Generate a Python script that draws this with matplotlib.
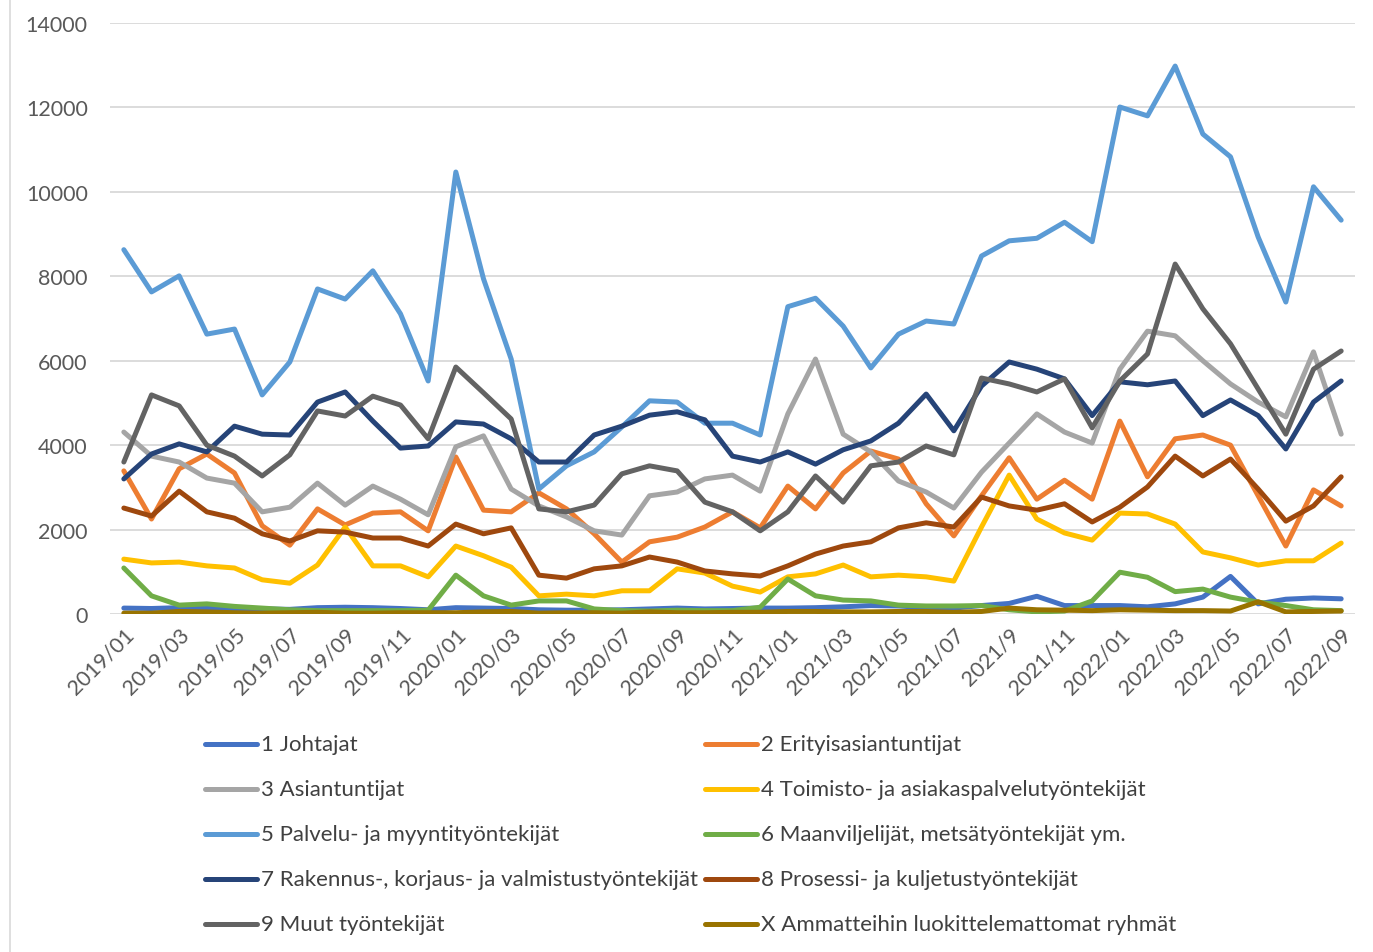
import matplotlib
matplotlib.use("Agg")
import matplotlib.pyplot as plt
from matplotlib.lines import Line2D

plt.rcParams['font.family'] = ['Lato', 'DejaVu Sans']

months = [f"{y}/{m:02d}" for y in (2019, 2020, 2021, 2022) for m in range(1, 13)][:45]
tick_labels = ["2019/01", "2019/03", "2019/05", "2019/07", "2019/09", "2019/11",
               "2020/01", "2020/03", "2020/05", "2020/07", "2020/09", "2020/11",
               "2021/01", "2021/03", "2021/05", "2021/07", "2021/9", "2021/11",
               "2022/01", "2022/03", "2022/05", "2022/07", "2022/09"]

s1_johtajat = [140, 130, 150, 140, 130, 120, 110, 150, 160, 150, 130, 100, 150, 140, 130,
               100, 90, 90, 100, 120, 140, 120, 130, 140, 140, 150, 170, 200, 190, 150,
               140, 200, 250, 420, 200, 200, 200, 170, 240, 400, 890, 240, 350, 380, 360]
s2_erityis = [3390, 2250, 3440, 3790, 3340, 2090, 1630, 2490, 2110, 2390, 2420, 1970, 3720, 2460, 2420,
              2870, 2490, 1900, 1230, 1710, 1820, 2060, 2420, 2040, 3030, 2490, 3340, 3860, 3670, 2610,
              1850, 2800, 3700, 2720, 3170, 2720, 4570, 3250, 4150, 4240, 4000, 2800, 1610, 2940, 2560]
s3_asiant = [4310, 3740, 3600, 3220, 3100, 2420, 2530, 3100, 2580, 3030, 2720, 2350, 3960, 4220, 2960,
             2560, 2300, 1970, 1870, 2800, 2890, 3200, 3290, 2910, 4740, 6040, 4260, 3840, 3150, 2890,
             2510, 3360, 4050, 4740, 4310, 4050, 5800, 6700, 6590, 6000, 5450, 5020, 4670, 6210, 4260]
s4_toimisto = [1300, 1210, 1230, 1140, 1090, 810, 730, 1160, 2060, 1140, 1140, 880, 1610, 1380, 1110,
               430, 470, 430, 550, 550, 1070, 970, 660, 520, 880, 950, 1160, 880, 920, 880,
               780, 2060, 3290, 2250, 1920, 1750, 2390, 2370, 2130, 1470, 1330, 1160, 1260, 1260, 1680]
s5_palvelu = [8630, 7630, 8010, 6630, 6750, 5190, 5970, 7700, 7460, 8130, 7110, 5520, 10470, 7940, 6040,
              2960, 3510, 3840, 4430, 5050, 5020, 4520, 4520, 4240, 7280, 7480, 6820, 5830, 6630, 6940,
              6870, 8480, 8840, 8900, 9280, 8820, 12010, 11800, 12980, 11370, 10830, 8930, 7390, 10120, 9330]
s6_maanvilj = [1090, 430, 210, 240, 180, 140, 100, 80, 80, 80, 80, 90, 920, 430, 210,
               310, 310, 120, 80, 70, 90, 80, 80, 160, 830, 430, 330, 310, 210, 190,
               190, 200, 100, 50, 70, 310, 990, 870, 530, 590, 400, 280, 200, 100, 80]
s7_rakennus = [3200, 3790, 4030, 3840, 4450, 4260, 4240, 5020, 5260, 4570, 3930, 3980, 4550, 4500, 4150,
               3600, 3600, 4240, 4450, 4710, 4790, 4600, 3740, 3600, 3840, 3550, 3890, 4100, 4520, 5210,
               4340, 5400, 5970, 5800, 5570, 4700, 5500, 5430, 5520, 4700, 5070, 4700, 3910, 5020, 5520]
s8_prosessi = [2510, 2320, 2910, 2420, 2270, 1900, 1730, 1970, 1940, 1800, 1800, 1610, 2130, 1900, 2040,
               920, 850, 1070, 1140, 1350, 1230, 1020, 950, 900, 1140, 1420, 1610, 1710, 2040, 2160,
               2060, 2770, 2560, 2460, 2610, 2180, 2530, 3010, 3740, 3270, 3670, 2960, 2200, 2560, 3250]
s9_muut = [3600, 5190, 4930, 4000, 3740, 3270, 3770, 4810, 4690, 5160, 4950, 4150, 5850, 5240, 4620,
           2490, 2420, 2580, 3320, 3510, 3390, 2650, 2420, 1970, 2420, 3270, 2650, 3510, 3600, 3980,
           3770, 5590, 5450, 5260, 5570, 4410, 5520, 6160, 8290, 7230, 6400, 5330, 4260, 5800, 6230]
sX_muut = [20, 20, 60, 50, 30, 20, 30, 40, 20, 20, 30, 30, 30, 50, 60,
           20, 30, 30, 20, 50, 30, 30, 40, 40, 60, 60, 50, 50, 60, 60,
           40, 60, 140, 100, 90, 80, 100, 90, 80, 80, 70, 290, 50, 60, 70]

names = ["1 Johtajat", "2 Erityisasiantuntijat", "3 Asiantuntijat",
         "4 Toimisto- ja asiakaspalvelutyöntekijät", "5 Palvelu- ja myyntityöntekijät",
         "6 Maanviljelijät, metsätyöntekijät ym.", "7 Rakennus-, korjaus- ja valmistustyöntekijät",
         "8 Prosessi- ja kuljetustyöntekijät", "9 Muut työntekijät",
         "X Ammatteihin luokittelemattomat ryhmät"]
series = [s1_johtajat, s2_erityis, s3_asiant, s4_toimisto, s5_palvelu,
          s6_maanvilj, s7_rakennus, s8_prosessi, s9_muut, sX_muut]
colors = ["#4472C4", "#ED7D31", "#A5A5A5", "#FFC000", "#5B9BD5",
          "#70AD47", "#264478", "#9E480E", "#636363", "#997300"]

W, H = 1373, 953
fig = plt.figure(figsize=(W / 100, H / 100), dpi=100)
ax = fig.add_axes([110 / W, 1 - 615 / H, (1355 - 110) / W, (615 - 24) / H])

x = list(range(len(months)))
for vals, c, n in zip(series, colors, names):
    ax.plot(x, vals, color=c, lw=3.6, solid_capstyle='round', solid_joinstyle='round', label=n)

ax.set_xlim(-0.5, len(months) - 0.5)
ax.set_ylim(0, 14000)
ax.set_yticks(range(0, 14001, 2000))
ax.yaxis.grid(True, color="#D9D9D9", lw=1.3)
ax.set_axisbelow(True)
for s in ax.spines.values():
    s.set_visible(False)
ax.tick_params(axis='both', length=0, colors="#595959", labelsize=15.5)
ax.tick_params(axis='y', pad=16)
ax.set_xticks(range(0, len(months), 2))
ax.set_xticklabels(tick_labels, rotation=45, ha='right', rotation_mode='anchor')
ax.tick_params(axis='x', pad=7)

# left border line of the chart area
fig.add_artist(Line2D([10 / W, 10 / W], [0, 1], color="#D9D9D9", lw=1.2))

# legend: two columns, row-wise order
for k, (c, n) in enumerate(zip(colors, names)):
    row, col = divmod(k, 2)
    x0 = 205 if col == 0 else 705
    yy = 745 + 45 * row
    fig.add_artist(Line2D([x0 / W, (x0 + 52) / W], [1 - yy / H, 1 - yy / H],
                          color=c, lw=3.6, solid_capstyle='round'))
    fig.text((x0 + 56) / W, 1 - yy / H, n, fontsize=16, color="#404040",
             va='center', ha='left')

fig.savefig("out.png", dpi=100)
